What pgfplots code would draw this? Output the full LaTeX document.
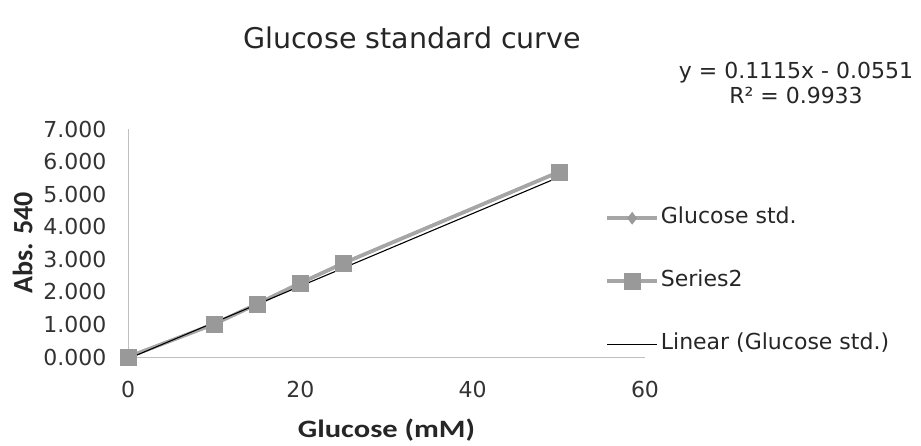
\documentclass[border=0pt]{standalone}
\usepackage{fontspec}
\setmainfont{DejaVu Sans}
\newfontfamily\carlito{Carlito}
\usepackage{graphicx}
\usepackage{pgfplots}
\pgfplotsset{compat=1.18}
\definecolor{sergray}{HTML}{A6A6A6}
\definecolor{mkgray}{HTML}{999999}
\definecolor{axgray}{HTML}{BFBFBF}
\begin{document}
\begin{tikzpicture}[x=1pt,y=1pt]
\useasboundingbox (0,0) rectangle (921,445);
\node[font=\fontsize{28.5}{32}\selectfont, text=black!85] at (412,407) {Glucose standard curve};
\node[font=\fontsize{22}{25}\selectfont, align=center, text=black!85] at (796,362) {y = 0.1115x - 0.0551\\R² = 0.9933};
\begin{axis}[
  at={(128pt,88pt)}, anchor=south west,
  scale only axis, width=517pt, height=228pt,
  xmin=0, xmax=60, ymin=0, ymax=7,
  xtick={0,20,40,60}, ytick={0,1,2,3,4,5,6,7},
  axis lines*=left,
  axis line style={axgray, line width=0.9pt},
  major tick length=0pt,
  /pgf/number format/assume math mode=true,
  ticklabel style={font=\fontsize{22}{25}\selectfont, text=black!80},
  yticklabel style={/pgf/number format/fixed, /pgf/number format/fixed zerofill, /pgf/number format/precision=3, xshift=-18pt},
  xticklabel style={yshift=-21pt},
  xlabel={\scalebox{1.22}[1]{\carlito\bfseries Glucose (mM)}},
  ylabel={\carlito\bfseries Abs. 540},
  xlabel style={font=\fontsize{25}{28}\selectfont, text=black!85, at={(ticklabel cs:0.5)}, yshift=-14pt},
  ylabel style={font=\fontsize{28}{28}\selectfont, text=black!85, at={(ticklabel cs:0.5)}, yshift=4pt},
  clip=false,
  legend style={at={(0.923,0.66)}, anchor=north west, draw=none, fill=none,
    font=\fontsize{22}{25}\selectfont, text=black!85, row sep=40pt, inner sep=0pt,
    nodes={inner sep=2pt, text height=15pt, text depth=4pt}},
  legend cell align=left,
  legend image code/.code={\draw[mark repeat=2,mark phase=2,#1] plot coordinates {(0pt,0pt) (25pt,0pt) (50pt,0pt)};},
]
\addplot[sergray, line width=3.5pt, mark=diamond*, mark size=6pt, mark options={fill=mkgray, draw=mkgray, line width=0.5pt}]
  coordinates {(0,0) (10,1.01) (15,1.63) (20,2.27) (25,2.88) (50,5.68)};
\addlegendentry{Glucose std.}
\addplot[sergray, line width=3.5pt, mark=square*, mark size=8pt, mark options={fill=mkgray, draw=mkgray, line width=0.5pt}]
  coordinates {(0,0) (10,1.01) (15,1.63) (20,2.27) (25,2.88) (50,5.68)};
\addlegendentry{Series2}
\addplot[black, line width=1.1pt, no marks]
  coordinates {(0,-0.0551) (50,5.5199)};
\addlegendentry{Linear (Glucose std.)}
\end{axis}
\end{tikzpicture}
\end{document}
